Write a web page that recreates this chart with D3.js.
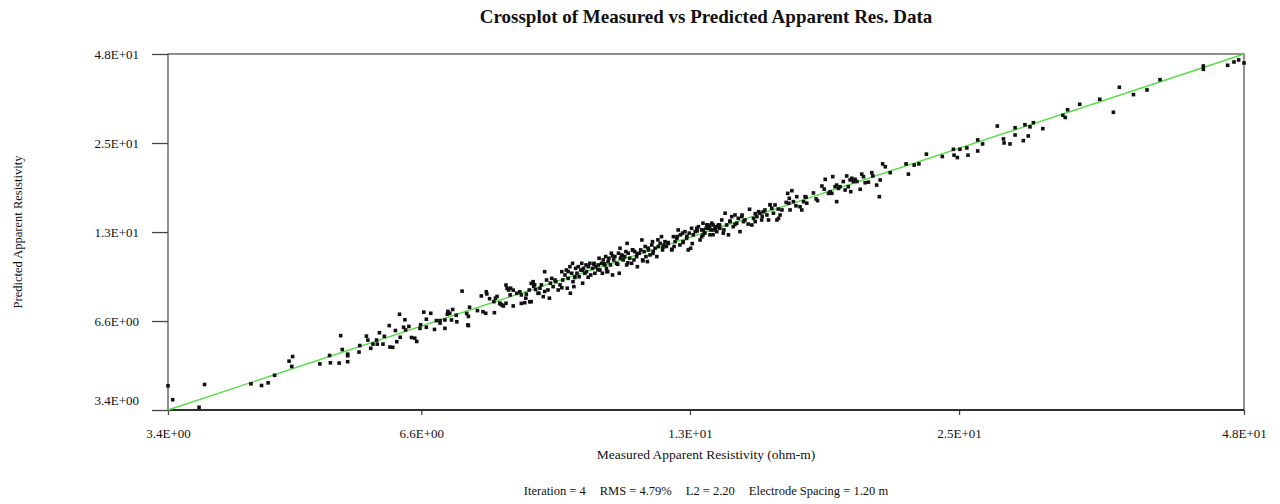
<!DOCTYPE html>
<html>
<head>
<meta charset="utf-8">
<script src="https://cdn.jsdelivr.net/npm/d3@7/dist/d3.min.js"></script>
<style>
  body { margin: 0; background: #fff; }
  text { font-family: 'Liberation Serif', 'Times New Roman', serif; fill: #111; }
</style>
</head>
<body>
<div id="chart"></div>
<script>
// measured vs predicted apparent resistivity (ohm-m)
const measured = [
  3.40, 3.44, 3.67, 3.72, 4.17, 4.28, 4.35, 4.42, 4.58, 4.62, 4.61, 4.94, 5.06, 5.07, 5.18, 5.20, 5.22, 5.29, 5.29, 5.29, 5.44, 5.45,
  5.54, 5.56, 5.60, 5.63, 5.68, 5.72, 5.69, 5.77, 5.87, 5.91, 5.86, 5.95, 5.97, 6.01, 6.02, 6.07, 6.10, 6.09, 6.19, 6.24, 6.27,
  6.32, 6.33, 6.38, 6.42, 6.42, 6.49, 6.55, 6.58, 6.64, 6.72, 6.72, 6.76, 6.77, 6.80, 6.83, 6.85, 6.91, 6.92, 7.01, 7.09, 7.12,
  7.11, 7.12, 7.35, 7.38, 7.43, 7.44, 7.45, 7.59, 7.58, 7.61, 7.64, 7.69, 7.73, 7.76, 7.81, 7.81, 7.83, 7.86, 7.90, 7.95, 7.89,
  7.95, 8.02, 8.08, 8.11, 8.18, 8.21, 8.28, 8.31, 8.36, 8.40, 8.47,
  8.11, 8.20, 8.27, 8.35, 8.31, 8.45, 8.49, 8.52, 8.56, 8.59, 8.63, 8.66, 8.69, 8.71, 8.74, 8.77, 8.83, 8.88, 8.92, 8.96, 8.98,
  9.03, 9.06, 9.08, 9.10, 9.14, 9.15, 9.18, 9.20, 9.21, 9.23, 9.25, 9.27, 9.30, 9.33, 9.35, 9.39, 9.41, 9.43, 9.45, 9.48, 9.51,
  9.52, 9.56, 9.60, 9.62, 9.66, 9.70, 9.72, 9.74, 9.80, 9.82, 9.84, 9.88, 9.90, 9.92, 9.96, 9.98, 10.00, 10.01, 10.04, 10.06,
  10.10, 10.12, 10.15, 10.18, 10.21, 10.25, 10.30, 10.32, 10.34, 10.35, 10.38, 10.42, 10.46, 10.49, 10.51, 10.52, 10.55, 10.59,
  10.64, 10.66, 10.70, 10.72, 10.77, 10.79, 10.84, 10.88, 10.91, 10.93, 10.97, 11.00, 11.02, 11.06, 11.09, 11.13, 11.18, 11.20,
  11.22, 11.27, 11.32, 11.36, 11.41, 11.45, 11.48, 11.52, 11.55, 11.59, 11.64, 11.74, 11.79, 11.81, 11.84, 11.89, 11.93, 11.98,
  12.00, 12.06, 12.08, 12.13, 12.18, 12.23, 12.26, 12.30, 12.33, 12.38, 12.44, 12.49, 12.54, 12.59, 12.64, 12.68, 12.72, 12.78,
  12.82, 12.89, 12.93, 13.00, 13.07, 13.15, 13.21,
  12.64, 12.69, 12.74, 12.80, 12.85, 12.90, 12.96, 13.01, 13.07, 13.12, 13.17, 13.22, 13.28, 13.33, 13.39, 13.44, 13.50, 13.55,
  13.61, 13.66, 13.72, 13.78, 13.83, 13.89, 13.95, 14.01, 14.06, 14.22, 14.30, 14.36, 14.42, 14.48, 14.54, 14.59, 14.65, 14.71,
  14.77, 14.84, 14.90, 14.96, 15.02, 15.08, 15.14, 15.21, 15.27, 15.33, 15.40, 15.62, 15.66, 15.68, 15.71, 15.78, 15.84, 15.97,
  16.10, 16.17, 16.24, 16.30, 16.37, 16.64, 16.81, 16.99, 17.13, 17.27, 17.34, 17.41, 17.45, 17.55, 17.62, 17.62, 17.70, 17.77,
  17.91, 17.99, 18.06, 18.13, 18.21, 18.24, 18.29, 18.36, 18.44, 18.52, 18.67, 18.74, 18.82, 18.90, 19.05, 19.21, 19.26, 19.44,
  19.57, 19.61, 19.73, 19.86, 20.10,
  20.90, 21.02, 21.32, 21.57, 21.97, 22.85, 23.48, 23.52, 23.71, 23.86, 24.27, 24.34, 24.93, 24.93, 25.23, 26.16, 26.56, 26.60,
  26.99, 27.33, 27.33, 27.89, 28.00, 28.23, 28.35, 28.59, 29.26, 30.74, 30.92, 31.10, 32.04,
  33.66, 34.81, 35.32, 36.57, 37.81, 39.04, 43.43, 43.43, 46.11, 46.83, 47.37, 48.00,
  // extra points inside the dense band
  8.38, 8.59, 8.81, 8.96, 9.10, 9.25, 9.42, 9.56, 9.69, 9.79, 9.94, 10.03, 10.15, 10.28, 10.39, 10.54, 10.67, 10.78, 10.94,
  11.08, 11.21, 11.35, 11.49, 11.64, 11.75, 11.90, 12.07, 12.19, 12.35, 12.50, 12.68, 12.84, 13.00, 13.16, 13.35, 13.55, 13.72,
  13.96, 14.17, 14.42, 14.67, 14.96, 15.26, 15.56, 15.94, 16.34, 16.75, 17.09, 7.14, 7.28, 7.50, 7.70, 6.64, 6.15, 5.79
]

const predicted = [
  4.07, 3.67, 3.47, 4.11, 4.13, 4.08, 4.16, 4.40, 4.89, 5.06, 4.70, 4.79, 5.10, 4.83, 4.82, 5.91, 5.33, 5.15, 5.09, 4.87, 5.23, 5.49,
  5.89, 5.72, 5.38, 5.55, 5.72, 6.04, 5.55, 5.55, 5.43, 5.42, 6.37, 6.14, 5.65, 6.93, 5.84, 6.29, 6.17, 6.65, 5.83, 5.80, 5.66,
  6.24, 6.41, 7.04, 6.68, 6.29, 6.98, 6.19, 6.61, 6.61, 6.64, 6.24, 6.93, 7.08, 6.98, 6.64, 7.18, 6.88, 6.55, 8.23, 6.97, 6.82,
  6.40, 6.37, 7.94, 7.06, 6.98, 8.19, 8.06, 7.01, 7.61, 7.81, 7.91, 7.53, 7.43, 7.37, 7.52, 8.61, 8.41, 8.30, 8.41, 8.29, 8.00,
  7.37, 8.10, 8.19, 7.51, 7.55, 8.05, 7.60, 8.72, 8.54, 8.33, 8.10,
  8.00, 7.81, 8.30, 8.83, 7.61, 8.10, 8.41, 8.62, 7.90, 9.51, 8.94, 8.30, 7.81, 8.73, 9.05, 8.51, 8.83, 8.30, 8.62, 9.51, 8.94,
  9.28, 9.63, 8.41, 9.05, 9.87, 8.10, 9.40, 10.12, 8.83, 8.51, 9.16, 9.75, 9.40, 9.87, 9.16, 9.63, 10.12, 8.73, 9.75, 9.40, 10.00,
  9.51, 9.87, 10.12, 9.28, 9.75, 10.12, 9.40, 9.87, 10.00, 10.51, 9.63, 10.12, 9.40, 10.38, 10.00, 10.64, 9.75, 9.51, 10.25, 10.51,
  10.00, 10.91, 9.28, 10.38, 10.64, 10.12, 10.91, 9.40, 11.32, 10.51, 10.77, 10.38, 10.64, 11.04, 10.00, 11.74, 10.91, 10.51,
  10.12, 11.18, 10.38, 11.04, 10.64, 9.87, 10.91, 11.18, 12.04, 10.38, 11.04, 11.47, 10.64, 10.25, 11.18, 10.77, 11.60, 11.89,
  11.04, 11.32, 10.64, 11.47, 11.74, 12.34, 11.18, 11.60, 11.89, 11.47, 11.74, 11.18, 12.34, 11.47, 11.89, 12.18, 12.97, 11.60,
  12.51, 12.67, 11.89, 12.81, 12.18, 11.18, 12.67, 11.32, 13.13, 12.51, 12.81, 13.13, 13.29, 12.04, 12.97, 13.64, 12.67, 13.13,
  13.46, 13.29, 12.97, 13.46, 13.13, 13.29, 13.46,
  12.34, 12.97, 12.67, 13.46, 13.13, 12.51, 13.64, 12.97, 13.29, 12.81, 13.46, 13.13, 13.97, 12.67, 14.69, 13.46, 12.51, 13.80,
  14.32, 13.29, 14.50, 13.64, 14.14, 12.81, 14.32, 13.80, 13.97, 15.13, 13.46, 14.14, 13.80, 14.32, 14.86, 14.69, 13.97, 14.86,
  15.05, 14.50, 13.97, 15.62, 15.24, 14.69, 15.62, 13.97, 14.14, 14.50, 15.05, 17.03, 15.83, 16.41, 15.05, 17.37, 16.01, 16.61,
  15.42, 15.05, 16.01, 16.61, 15.83, 17.08, 16.13, 17.98, 18.90, 17.03, 17.24, 17.03, 19.28, 17.89, 18.11, 16.01, 17.67, 17.89,
  18.59, 17.46, 19.38, 17.89, 18.81, 17.24, 19.05, 18.59, 18.90, 18.59, 17.55, 19.65, 19.28, 18.43, 18.51, 19.86, 19.38, 18.11,
  16.61, 18.81, 21.20, 20.75, 19.86,
  21.20, 19.65, 21.02, 21.20, 22.79, 22.39, 23.63, 22.62, 22.22, 23.63, 23.87, 22.62, 25.33, 23.34, 24.59, 28.09, 25.52, 24.77,
  24.59, 27.74, 26.28, 25.20, 28.37, 26.09, 27.92, 28.80, 27.55, 30.43, 29.94, 31.71, 33.03,
  34.28, 31.12, 37.48, 35.49, 36.74, 39.66, 43.91, 42.84, 44.14, 45.24, 45.92, 44.91,
  8.63, 8.21, 8.94, 8.44, 9.52, 9.11, 9.62, 9.13, 10.06, 9.65, 10.08, 9.52, 10.69, 10.05, 10.70, 10.16, 11.17, 10.87, 10.31,
  11.33, 10.89, 12.05, 11.41, 11.81, 11.24, 12.35, 11.81, 12.38, 11.72, 12.88, 12.49, 13.43, 12.52, 13.27, 12.97, 13.86, 13.51,
  14.49, 13.55, 14.64, 14.35, 15.65, 15.15, 15.92, 15.52, 16.55, 16.34, 17.57, 7.30, 7.12, 7.78, 7.48, 6.49, 6.33, 5.88
]

const tickLabels = ['3.4E+00', '6.6E+00', '1.3E+01', '2.5E+01', '4.8E+01']
const xTickValues = [3.4, 6.34, 12.28, 23.81, 48]
const yTickValues = [3.4, 6.59, 12.77, 24.76, 48]
const domainMin = 3.4
const domainMax = 48

const titleText = 'Crossplot of Measured vs Predicted Apparent Res. Data'
const xLabel = 'Measured Apparent Resistivity (ohm-m)'
const yLabel = 'Predicted Apparent Resistivity'
const footer = ['Iteration = 4', 'RMS = 4.79%', 'L2 = 2.20', 'Electrode Spacing = 1.20 m']

const margin = { top: 54, left: 168, right: 36, bottom: 94 }
const width = 1280 - margin.left - margin.right
const height = 504 - margin.top - margin.bottom

const svg = d3
  .select('#chart')
  .append('svg')
  .attr('width', width + margin.left + margin.right)
  .attr('height', height + margin.top + margin.bottom)
  .append('g')
  .attr('transform', 'translate(' + margin.left + ',' + margin.top + ')')

const xPositionScale = d3.scaleLog().domain([domainMin, domainMax]).range([0, width])
const yPositionScale = d3.scaleLog().domain([domainMin, domainMax]).range([height, 0])

const datapoints = measured.map((m, i) => ({ measured: m, predicted: predicted[i] }))

// axes
const xAxis = d3
  .axisBottom(xPositionScale)
  .tickValues(xTickValues)
  .tickFormat((d, i) => tickLabels[i])
  .tickSize(5)
  .tickPadding(14)

const yAxis = d3
  .axisLeft(yPositionScale)
  .tickValues(yTickValues)
  .tickFormat((d, i) => tickLabels[i])
  .tickSize(16)
  .tickPadding(13)

svg
  .append('g')
  .attr('class', 'axis x-axis')
  .attr('transform', 'translate(0,' + height + ')')
  .call(xAxis)

svg
  .append('g')
  .attr('class', 'axis y-axis')
  .call(yAxis)

svg.selectAll('.axis .domain').remove()
svg.selectAll('.axis text').attr('font-size', 13).attr('font-family', "'Liberation Serif', serif").attr('fill', '#111')
svg.selectAll('.axis line').attr('stroke', '#444').attr('stroke-width', 1.3)
// lowest y label sits a bit above its tick
svg
  .select('.y-axis')
  .selectAll('.tick')
  .filter((d, i) => i === 0)
  .select('text')
  .attr('dy', '-0.45em')

// frame
svg
  .append('rect')
  .attr('x', 0)
  .attr('y', 0)
  .attr('width', width)
  .attr('height', height)
  .attr('fill', 'none')
  .attr('stroke', '#555')
  .attr('stroke-width', 1.3)

svg
  .append('line')
  .attr('x1', 0)
  .attr('x2', width)
  .attr('y1', height)
  .attr('y2', height)
  .attr('stroke', '#111')
  .attr('stroke-width', 1.3)

// 1:1 line
svg
  .append('line')
  .attr('x1', xPositionScale(domainMin))
  .attr('y1', yPositionScale(domainMin))
  .attr('x2', xPositionScale(domainMax))
  .attr('y2', yPositionScale(domainMax))
  .attr('stroke', '#55dd44')
  .attr('stroke-width', 1.4)

const size = 3.6
svg
  .selectAll('.point')
  .data(datapoints)
  .enter()
  .append('rect')
  .attr('class', 'point')
  .attr('x', d => xPositionScale(d.measured) - size / 2)
  .attr('y', d => yPositionScale(d.predicted) - size / 2)
  .attr('width', size)
  .attr('height', size)
  .attr('fill', '#111')

// titles
svg
  .append('text')
  .attr('x', width / 2)
  .attr('y', -31)
  .attr('text-anchor', 'middle')
  .attr('font-size', 19)
  .attr('font-weight', 'bold')
  .text(titleText)

svg
  .append('text')
  .attr('x', width / 2)
  .attr('y', height + 49)
  .attr('text-anchor', 'middle')
  .attr('font-size', 13.5)
  .text(xLabel)

svg
  .append('text')
  .attr('transform', 'translate(' + (22 - margin.left) + ',' + height / 2 + ') rotate(-90)')
  .attr('text-anchor', 'middle')
  .attr('font-size', 12.5)
  .text(yLabel)

svg
  .append('text')
  .attr('x', width / 2)
  .attr('y', height + 85)
  .attr('text-anchor', 'middle')
  .attr('font-size', 12.5)
  .selectAll('tspan')
  .data(footer)
  .enter()
  .append('tspan')
  .attr('dx', (d, i) => (i === 0 ? 0 : 14))
  .text(d => d)
</script>
</body>
</html>
